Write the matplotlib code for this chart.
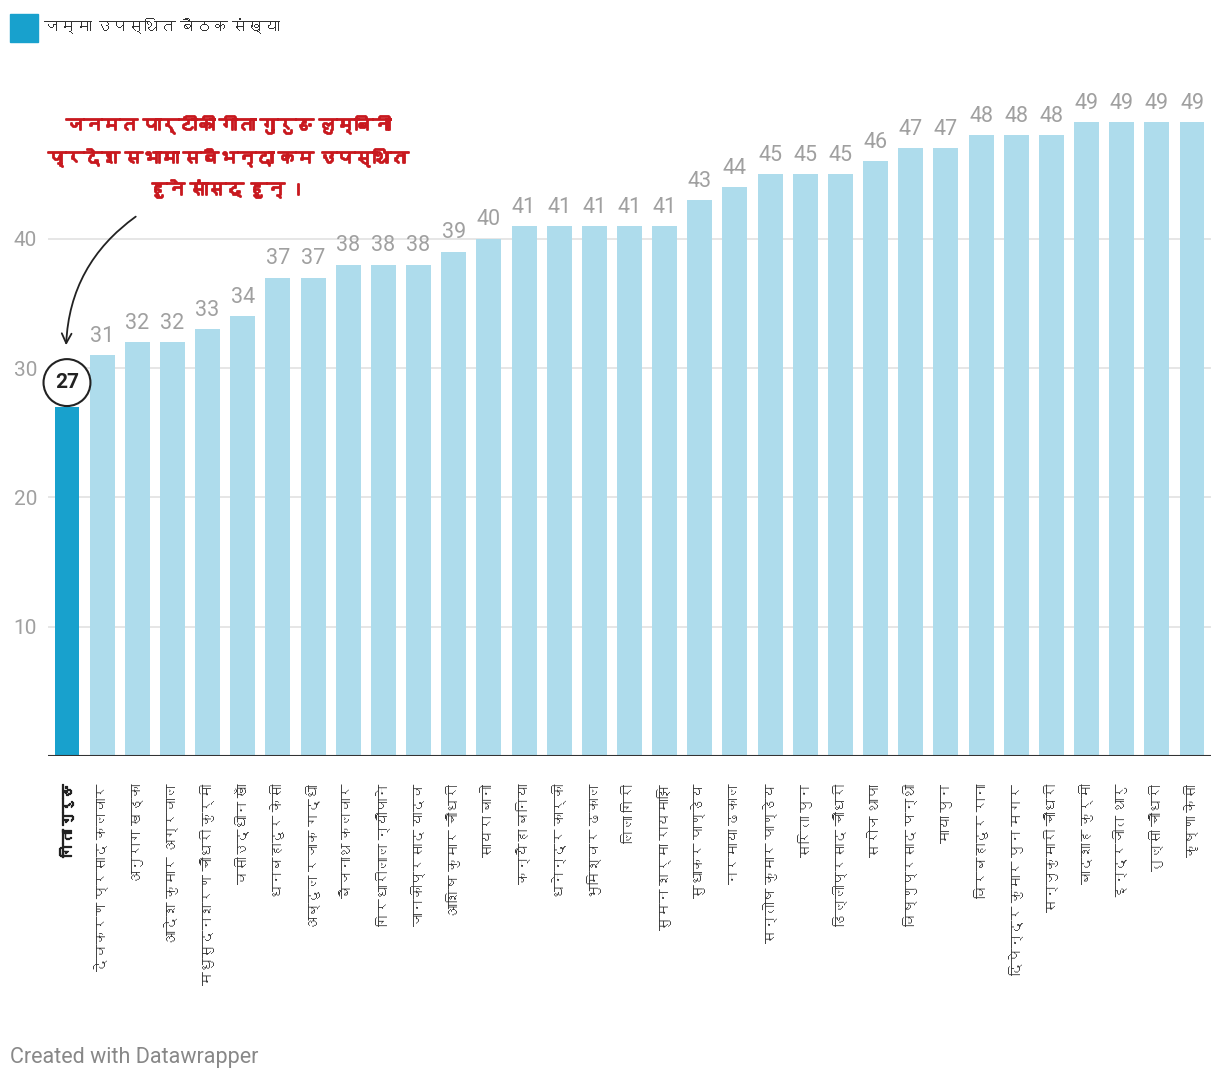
import matplotlib
matplotlib.use("Agg")
import matplotlib.pyplot as plt
from matplotlib import font_manager
from matplotlib.ft2font import FT2Font
from matplotlib.patches import Rectangle
import matplotlib.patheffects as pe

names = [
    "गिता गुरुङ", "देवकरण प्रसाद कलवार", "अनुराग खड्का", "आदेश कुमार अग्रवाल",
    "मधुसुदनशरण चौधरी कुर्मी", "वसीउद्धीन खाँ", "धनबहादुर केसी", "अब्दुल रजाक गद्धी",
    "बैजनाथ कलवार", "गिरधारीलाल न्यौपाने", "जानकीप्रसाद यादव", "आशिष कुमार चौधरी",
    "सायरा बानो", "कन्यैहा बनिया", "धनेन्द्र कार्की", "भुमिश्वर ढकाल", "लिला गिरी",
    "सुमन शर्मा रायमाझि", "सुधाकर पाण्डेय", "नरमाया ढकाल", "सन्तोष कुमार पाण्डेय",
    "सरिता पुन", "डिल्लीप्रसाद चौधरी", "सरोज थापा", "विष्णुप्रसाद पन्थी", "माया पुन",
    "विरबहादुर राना", "दिपेन्द्र कुमार पुन मगर", "सन्जुकुमारी चौधरी", "बादशाह कुर्मी",
    "इन्द्रजीत थारु", "तुल्सी चौधरी", "कृष्णा केसी",
]
values = [27, 31, 32, 32, 33, 34, 37, 37, 38, 38, 38, 39, 40, 41, 41, 41, 41, 41,
          43, 44, 45, 45, 45, 46, 47, 47, 48, 48, 48, 49, 49, 49, 49]
yticks = [10, 20, 30, 40]
legend_label = "जम्मा उपस्थित बैठक संख्या"
note_text = "जनमत पार्टीकी गीता गुरुङ लुम्बिनी\nप्रदेश सभामा सबैभन्दा कम उपस्थित\nहुने सांसद हुन् ।"
footer = "Created with Datawrapper"


def find_font(ch):
    for f in font_manager.fontManager.ttflist:
        try:
            ft = FT2Font(f.fname)
            if ord(ch) in ft.get_charmap():
                return f.name
        except Exception:
            pass
    return None


deva = find_font("क")
fams = ["Roboto"] + ([deva] if deva else []) + ["DejaVu Sans"]
plt.rcParams["font.family"] = fams

W, H = 1220, 1082
fig = plt.figure(figsize=(W / 100, H / 100), dpi=100)


def fx(px):
    return px / W


def fy(py):
    return 1 - py / H


ax_left, ax_right, ax_bottom, ax_top = 48, 1211, 756, 109.5
ax = fig.add_axes([fx(ax_left), fy(ax_bottom), (ax_right - ax_left) / W, (ax_bottom - ax_top) / H])

light = "#aedcec"
dark = "#18a1cd"
colors = [dark] + [light] * (len(values) - 1)
x = list(range(len(values)))
ax.bar(x, values, width=0.71, color=colors, zorder=2)
ax.set_xlim(-0.54, len(values) - 0.46)
ax.set_ylim(0, 50)

for s in ax.spines.values():
    s.set_visible(False)
ax.axhline(0, color="#333333", lw=1.5, zorder=3)
ax.set_yticks(yticks)
ax.set_yticklabels([str(t) for t in yticks])
ax.tick_params(axis="y", length=0, pad=8, labelsize=15, labelcolor="#a0a0a0")
ax.yaxis.grid(True, color="#e2e2e2", lw=1.2, zorder=0)
ax.set_axisbelow(True)

ax.set_xticks(x)
ax.set_xticklabels(names, rotation=90, va="top", ha="center")
ax.tick_params(axis="x", length=0, pad=20, labelsize=10, labelcolor="#333333")
first = ax.get_xticklabels()[0]
first.set_fontweight("bold")
first.set_color("#222222")
first.set_path_effects([pe.withStroke(linewidth=0.9, foreground="#222222")])

for i, v in enumerate(values):
    if i == 0:
        ax.annotate(str(v), xy=(i, v), xytext=(0, 17.5), textcoords="offset points",
                    ha="center", va="center", fontsize=15, fontweight="bold", color="#222222",
                    bbox=dict(boxstyle="circle,pad=0.55", fc="white", ec="#222222", lw=1.5),
                    zorder=5)
    else:
        ax.annotate(str(v), xy=(i, v), xytext=(0, 6), textcoords="offset points",
                    ha="center", va="bottom", fontsize=15.5, color="#a0a0a0")


def px2data(px, py):
    dx = (px - ax_left) / ((ax_right - ax_left) / (len(values) + 0.08)) - 0.54
    dy = (ax_bottom - py) / ((ax_bottom - ax_top) / 50)
    return dx, dy


ax.annotate("", xy=px2data(66, 348), xytext=px2data(138, 215),
            arrowprops=dict(arrowstyle="->,head_length=0.7,head_width=0.35", color="#222222",
                            lw=1.3, connectionstyle="arc3,rad=0.25"),
            annotation_clip=False, zorder=6)

fig.text(fx(228), fy(158), note_text, ha="center", va="center", fontsize=13,
         fontweight="bold", color="#c8191f", linespacing=1.9,
         path_effects=[pe.withStroke(linewidth=1.3, foreground="#c8191f")])

fig.patches.append(Rectangle((fx(10), fy(42)), 28 / W, 28 / H, transform=fig.transFigure,
                             color=dark))
fig.text(fx(44), fy(27), legend_label, ha="left", va="center", fontsize=11.5, color="#333333")
fig.text(fx(10), fy(1057), footer, ha="left", va="center", fontsize=15.5, color="#888888")

fig.savefig("out.png", dpi=100)
